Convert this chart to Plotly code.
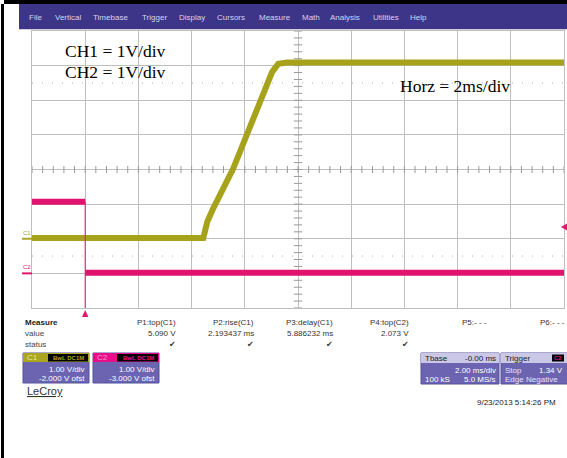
import numpy as np
import plotly.graph_objects as go

W, H = 567, 458

# C1: time in ms (trigger at 0), volts
c1_t = [-2.0, 4.44, 4.59, 4.81, 5.56, 6.02, 6.65, 7.03, 7.26, 7.59, 18.0]
c1_v = [0.02, 0.02, 0.49, 0.87, 2.02, 2.89, 4.04, 4.82, 5.05, 5.09, 5.09]
# C2: high before trigger, low after
c2_hi_t = [-2.0, 0.0]
c2_hi_v = [2.07, 2.07]
c2_lo_t = [0.0, 18.0]
c2_lo_v = [0.02, 0.02]
trig_level = 1.34

menu_items = ["File", "Vertical", "Timebase", "Trigger", "Display", "Cursors",
              "Measure", "Math", "Analysis", "Utilities", "Help"]
menu_x = [27, 53, 91, 140, 177, 215, 257, 300, 328, 371, 408]

meas_names = ["P1:top(C1)", "P2:rise(C1)", "P3:delay(C1)", "P4:top(C2)", "P5:- - -", "P6:- - -"]
meas_values = ["5.090 V", "2.193437 ms", "5.886232 ms", "2.073 V", "", ""]
meas_status = [True, True, True, True, False, False]
meas_right = [178, 256, 335, 411, 489, 567]

C1_COL = "#aaa61e"
C2_COL = "#e3156f"
PURPLE = "#6c64b0"
LAV = "#cbc7e6"


def px(x):
    return x / W


def py(y):
    return 1 - y / H


shapes = []
annotations = []


def rect(x0, y0, x1, y1, fill, line=None, layer="above"):
    shapes.append(dict(type="rect", xref="paper", yref="paper",
                       x0=px(x0), x1=px(x1), y0=py(y1), y1=py(y0),
                       fillcolor=fill, layer=layer,
                       line=dict(width=0) if line is None else line))


def ann(text, x, y, size=8, color="#333", xanchor="left", family="Liberation Sans"):
    annotations.append(dict(text=text, x=px(x), y=py(y), xref="paper", yref="paper",
                            showarrow=False, xanchor=xanchor, yanchor="middle",
                            font=dict(size=size, color=color, family=family)))


fig = go.Figure()

# centre-line tick marks (decoration)
fig.add_trace(go.Scatter(x=np.arange(-2, 18.001, 0.4), y=[2] * 51, mode="markers",
                         marker=dict(symbol="line-ns", size=5, line=dict(width=1, color="#9a9a9a")),
                         hoverinfo="skip"))
fig.add_trace(go.Scatter(x=[8] * 41, y=np.arange(-2, 6.001, 0.2), mode="markers",
                         marker=dict(symbol="line-ew", size=6, line=dict(width=1, color="#9a9a9a")),
                         hoverinfo="skip"))

# C2 trace
for tt, vv in [(c2_hi_t, c2_hi_v), (c2_lo_t, c2_lo_v)]:
    fig.add_trace(go.Scatter(x=tt, y=vv, yaxis="y2", mode="lines",
                             line=dict(color="#e0146e", width=6), hoverinfo="skip"))

# C1 trace
fig.add_trace(go.Scatter(x=c1_t, y=c1_v, mode="lines",
                         line=dict(color="#a6a21c", width=6), hoverinfo="skip"))

# dotted lines at +-2.5 div
for yv in [4.5, -0.5]:
    shapes.append(dict(type="line", xref="x", yref="y", x0=-2, x1=18, y0=yv, y1=yv,
                       line=dict(color="#b0b0b0", width=1, dash="1px,9px"), layer="below"))

# trigger time line (thin pink) and marker
shapes.append(dict(type="line", xref="x", yref="y2", x0=0, x1=0, y0=-1, y1=c2_hi_v[0],
                   line=dict(color=C2_COL, width=1)))
shapes.append(dict(type="path", xref="x", yref="paper",
                   path=f"M -0.12,{py(317)} L 0.12,{py(317)} L 0,{py(310)} Z",
                   fillcolor=C2_COL, line=dict(width=0)))
# trigger level marker on the right
shapes.append(dict(type="path", xref="paper", yref="y2",
                   path=f"M {px(567)},{trig_level + 0.1} L {px(561)},{trig_level} L {px(567)},{trig_level - 0.1} Z",
                   fillcolor=C2_COL, line=dict(width=0)))

# channel markers at left
shapes.append(dict(type="line", xref="paper", yref="y", x0=px(22), x1=px(32), y0=0, y1=0,
                   line=dict(color=C1_COL, width=2)))
shapes.append(dict(type="line", xref="paper", yref="y2", x0=px(22), x1=px(32), y0=0, y1=0,
                   line=dict(color=C2_COL, width=2)))
annotations.append(dict(text="C1", x=px(21), y=0, xref="paper", yref="y", yshift=6,
                        showarrow=False, xanchor="left", yanchor="middle",
                        font=dict(size=6, color=C1_COL, family="Liberation Sans")))
annotations.append(dict(text="C2", x=px(21), y=0, xref="paper", yref="y2", yshift=6,
                        showarrow=False, xanchor="left", yanchor="middle",
                        font=dict(size=6, color=C2_COL, family="Liberation Sans")))

# frame borders
rect(1, 4, 4, 458, "black")
rect(4, 0, 567, 4, "black")
# menu bar
rect(19, 4, 567, 29, "#3d3587")
shapes.append(dict(type="line", xref="paper", yref="paper", x0=px(19), x1=px(567),
                   y0=py(29.5), y1=py(29.5), line=dict(color="#cfcfda", width=1)))
for name, mx in zip(menu_items, menu_x):
    ann(name, mx, 17.5, size=8, color="#d6d4f2")

# labels on the screen
ann("CH1 = 1V/div", 63, 51, size=17.5, color="black", family="Liberation Serif")
ann("CH2 = 1V/div", 63, 72, size=17.5, color="black", family="Liberation Serif")
ann("Horz = 2ms/div", 398, 86, size=17.5, color="black", family="Liberation Serif")

# measure table
ann("<b>Measure</b>", 23, 322, color="#222")
ann("value", 23, 333, color="#444")
ann("status", 23, 344, color="#444")
for name, val, st, rx in zip(meas_names, meas_values, meas_status, meas_right):
    ann(name, rx, 322, xanchor="right", color="#333")
    if val:
        ann(val, rx, 333, xanchor="right", color="#333")
    if st:
        ann("✔", rx - 6, 344, xanchor="center", color="#333", family="DejaVu Sans", size=8)

# channel boxes
boxes = [(23, 89, 48, C1_COL, "C1", "1.00 V/div", "-2.000 V ofst", "#e8e8a0"),
         (93, 159, 117, "#e8108a", "C2", "1.00 V/div", "-3.000 V ofst", "#ff9ad0")]
for x0, x1, xb, col, lab, l1, l2, labcol in boxes:
    rect(x0, 353, x1, 383, PURPLE, line=dict(color="#57509a", width=1))
    rect(x0, 353, x1, 362, col)
    rect(xb, 354, x1 - 1, 361.5, "black")
    ann(lab, x0 + 2, 357.5, size=8, color=labcol)
    ann("<b>BwL DC1M</b>", (xb + x1) / 2, 357.7, size=6, color=col, xanchor="center")
    ann(l1, x1 - 2, 369.5, color="white", xanchor="right")
    ann(l2, x1 - 2, 378.5, color="white", xanchor="right")

ann("<u>LeCroy</u>", 25, 391, size=11, color="#333")

# timebase box
rect(421, 353, 499, 384, PURPLE, line=dict(color="#57509a", width=1))
rect(421, 353, 499, 363, LAV)
ann("Tbase", 423, 358, color="#222")
ann("-0.00 ms", 498, 358, color="#222", xanchor="right")
ann("2.00 ms/div", 498, 370.5, color="white", xanchor="right")
ann("100 kS", 423, 379.5, color="white")
ann("5.0 MS/s", 498, 379.5, color="white", xanchor="right")

# trigger box
rect(501, 353, 570, 384, PURPLE, line=dict(color="#57509a", width=1))
rect(501, 353, 570, 363, LAV)
rect(552, 354.5, 564, 361.5, "black")
ann("Trigger", 503, 358, color="#222")
ann("<b>C2</b>", 558, 358, size=6, color=C2_COL, xanchor="center")
ann("Stop", 503, 370.5, color="#e6e2ff")
ann("1.34 V", 565, 370.5, color="white", xanchor="right")
ann("Edge", 503, 379.5, color="#e6e2ff")
ann("Negative", 524, 379.5, color="#e6e2ff")

ann("9/23/2013 5:14:26 PM", 558, 402, color="#222", xanchor="right")

grid_col = "#bfbfbf"
fig.update_layout(
    width=W, height=H, margin=dict(l=0, r=0, t=0, b=0),
    paper_bgcolor="white", plot_bgcolor="white", showlegend=False,
    xaxis=dict(domain=[px(32), px(564)], range=[-2, 18], tick0=-2, dtick=2,
               showgrid=True, gridcolor=grid_col, gridwidth=1.2, zeroline=False,
               showticklabels=False, ticks="", showline=True, mirror=True,
               linecolor=grid_col, linewidth=1.2, fixedrange=True),
    yaxis=dict(domain=[py(308), py(31)], range=[-2, 6], tick0=-2, dtick=1,
               showgrid=True, gridcolor=grid_col, gridwidth=1.2, zeroline=False,
               showticklabels=False, ticks="", showline=True, mirror=True,
               linecolor=grid_col, linewidth=1.2, fixedrange=True),
    yaxis2=dict(overlaying="y", range=[-1, 7], showgrid=False, zeroline=False,
                showticklabels=False, ticks="", showline=False, fixedrange=True),
    shapes=shapes, annotations=annotations,
)

fig.write_html("out.html", config={"displayModeBar": False},
               post_script="document.body.style.margin='0';document.body.style.overflow='hidden';")
